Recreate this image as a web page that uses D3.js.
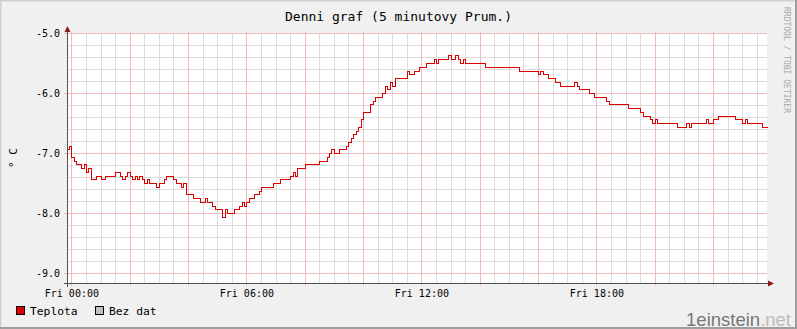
<!DOCTYPE html>
<html>
<head>
<meta charset="utf-8">
<script src="https://cdn.jsdelivr.net/npm/d3@7"></script>
<style>
  html, body { margin: 0; padding: 0; background: #f0f0f0; }
  svg { display: block; }
  text { font-family: "DejaVu Sans Mono", monospace; }
</style>
</head>
<body>
<svg id="chart" width="797" height="329"></svg>
<script>
// minutes since Fri 00:00 where the 5-minute reading changes, and the new value
const times = [
  -9, -5, 0, 5, 10, 20, 25, 30, 35, 40, 50, 60, 70, 90, 100, 105, 110, 115, 120, 125,
  130, 135, 140, 145, 150, 155, 160, 175, 180, 190, 195, 210, 215, 225, 230, 235, 250, 265, 275, 280,
  290, 295, 310, 315, 320, 335, 345, 350, 355, 360, 365, 375, 385, 390, 415, 430, 450, 455, 460, 465,
  480, 510, 525, 530, 535, 540, 550, 565, 570, 575, 580, 585, 590, 595, 600, 615, 620, 625, 640, 645,
  650, 655, 660, 665, 690, 695, 705, 715, 730, 745, 750, 755, 775, 780, 790, 795, 800, 805, 810, 850,
  920, 960, 965, 970, 980, 995, 1005, 1035, 1040, 1045, 1065, 1075, 1100, 1105, 1145, 1170, 1175, 1190, 1195, 1200,
  1205, 1245, 1265, 1270, 1275, 1305, 1310, 1320, 1330, 1365, 1380, 1385, 1390, 1420
];
const temps = [
  -6.9375, -6.875, -7.0625, -7.125, -7.1875, -7.25, -7.1875, -7.3125, -7.25, -7.4375, -7.375, -7.4375, -7.375, -7.3125, -7.375, -7.4375, -7.375, -7.3125, -7.375, -7.4375,
  -7.375, -7.4375, -7.375, -7.4375, -7.5, -7.4375, -7.5, -7.5625, -7.5, -7.4375, -7.375, -7.4375, -7.5, -7.5625, -7.5, -7.6875, -7.75, -7.8125, -7.75, -7.8125,
  -7.875, -7.9375, -8.0625, -7.9375, -8.0, -7.9375, -7.875, -7.8125, -7.875, -7.8125, -7.75, -7.6875, -7.625, -7.5625, -7.5, -7.4375, -7.375, -7.3125, -7.375, -7.25,
  -7.1875, -7.125, -7.0625, -7.0, -6.9375, -7.0, -6.9375, -6.875, -6.8125, -6.75, -6.6875, -6.625, -6.5625, -6.4375, -6.3125, -6.1875, -6.125, -6.0625, -6.0, -5.875,
  -5.9375, -5.8125, -5.875, -5.75, -5.625, -5.6875, -5.625, -5.5625, -5.5, -5.4375, -5.5, -5.4375, -5.375, -5.4375, -5.375, -5.4375, -5.5, -5.4375, -5.5, -5.5625,
  -5.625, -5.6875, -5.625, -5.6875, -5.75, -5.8125, -5.875, -5.8125, -5.875, -5.9375, -6.0, -6.0625, -6.125, -6.1875, -6.25, -6.3125, -6.375, -6.4375, -6.5, -6.4375,
  -6.5, -6.5625, -6.5, -6.5625, -6.5, -6.4375, -6.5, -6.4375, -6.375, -6.4375, -6.5, -6.4375, -6.5, -6.5625
];

const yTicks = [-9, -8, -7, -6, -5];
const xTicks = [0, 360, 720, 1080];
const xLabels = ["Fri 00:00", "Fri 06:00", "Fri 12:00", "Fri 18:00"];
const legendNames = ["Teplota", "Bez dat"];
const legendColors = ["#e00000", "#c0c0c0"];

const title = "Denni graf (5 minutovy Prum.)";
const yTitle = "\u00b0 C";
const credit = "RRDTOOL / TOBI OETIKER";

const svg = d3.select("#chart");
const width = 797;
const height = 329;

const plotLeft = 67, plotRight = 767, plotTop = 33, plotBottom = 283;
const tStart = -9, tEnd = tStart + 1440;

const x = d3.scaleLinear().domain([tStart, tEnd]).range([plotLeft, plotRight]);
const y = d3.scaleLinear().domain([-9 - 1 / 6, -5]).range([plotBottom, plotTop]);
const px = v => Math.round(v) + 0.5;

// background with shaded frame
svg.append("rect").attr("width", width).attr("height", height).attr("fill", "#f0f0f0");
svg.append("path").attr("d", `M0,${height} V0 H${width}`).attr("fill", "none")
  .attr("stroke", "#cfcfcf").attr("stroke-width", 3);
svg.append("path").attr("d", `M${width},0 V${height} H0`).attr("fill", "none")
  .attr("stroke", "#9e9e9e").attr("stroke-width", 4);

svg.append("rect")
  .attr("x", plotLeft).attr("y", plotTop)
  .attr("width", plotRight - plotLeft).attr("height", plotBottom - plotTop)
  .attr("fill", "#fff");

const grid = svg.append("g").attr("shape-rendering", "crispEdges");

// minor grid
const minorX = d3.range(0, tEnd, 30).filter(t => t % 120 !== 0);
const minorY = d3.range(-9.2, -4.99, 0.2).filter(v => Math.abs(v - Math.round(v)) > 0.01 && y(v) <= plotBottom);

grid.selectAll("line.vmin").data(minorX).join("line")
  .attr("x1", d => px(x(d))).attr("x2", d => px(x(d)))
  .attr("y1", plotTop).attr("y2", plotBottom)
  .attr("stroke", "#dcdcdc");
grid.selectAll("line.hmin").data(minorY).join("line")
  .attr("x1", plotLeft).attr("x2", plotRight)
  .attr("y1", d => px(y(d))).attr("y2", d => px(y(d)))
  .attr("stroke", "#dcdcdc");

// major grid
const majorX = d3.range(0, tEnd, 120);
grid.selectAll("line.vmaj").data(majorX).join("line")
  .attr("x1", d => px(x(d))).attr("x2", d => px(x(d)))
  .attr("y1", plotTop - 1).attr("y2", plotBottom + 3)
  .attr("stroke", "#f3bcbc");
grid.selectAll("line.hmaj").data(yTicks).join("line")
  .attr("x1", plotLeft - 3).attr("x2", plotRight)
  .attr("y1", d => px(y(d))).attr("y2", d => px(y(d)))
  .attr("stroke", "#f3bcbc");

// data line
const points = times.map((t, i) => [t, temps[i]]);
points.push([tEnd, temps[temps.length - 1]]);

const line = d3.line()
  .x(d => px(x(d[0])))
  .y(d => px(y(d[1])))
  .curve(d3.curveStepAfter);

svg.append("path")
  .datum(points)
  .attr("d", line)
  .attr("fill", "none")
  .attr("stroke", "#dd0000")
  .attr("stroke-width", 1)
  .attr("shape-rendering", "crispEdges");

// axes
const axes = svg.append("g").attr("shape-rendering", "crispEdges");
axes.append("line")
  .attr("x1", plotLeft + 0.5).attr("x2", plotLeft + 0.5)
  .attr("y1", plotBottom + 4).attr("y2", plotTop - 3)
  .attr("stroke", "#505050");
axes.append("line")
  .attr("x1", plotLeft - 3).attr("x2", plotRight + 2)
  .attr("y1", plotBottom + 0.5).attr("y2", plotBottom + 0.5)
  .attr("stroke", "#505050");

svg.append("path")
  .attr("d", `M${plotLeft + 0.5},${plotTop - 7} L${plotLeft - 2.5},${plotTop - 1} L${plotLeft + 3.5},${plotTop - 1} Z`)
  .attr("fill", "#8b1a1a");
svg.append("path")
  .attr("d", `M${plotRight + 7},${plotBottom + 0.5} L${plotRight + 1},${plotBottom - 2.5} L${plotRight + 1},${plotBottom + 3.5} Z`)
  .attr("fill", "#8b1a1a");

const yAxis = d3.axisLeft(y)
  .tickValues(yTicks)
  .tickSize(0)
  .tickPadding(7)
  .tickFormat(d => d.toFixed(1));

svg.append("g")
  .attr("transform", `translate(${plotLeft},0)`)
  .call(yAxis)
  .call(g => g.select(".domain").remove())
  .selectAll("text")
  .attr("font-family", "DejaVu Sans Mono")
  .attr("font-size", 10)
  .attr("fill", "#000");

const xAxis = d3.axisBottom(x)
  .tickValues(xTicks)
  .tickSize(0)
  .tickPadding(7)
  .tickFormat((d, i) => xLabels[i]);

svg.append("g")
  .attr("transform", `translate(0,${plotBottom})`)
  .call(xAxis)
  .call(g => g.select(".domain").remove())
  .selectAll("text")
  .attr("font-family", "DejaVu Sans Mono")
  .attr("font-size", 10)
  .attr("fill", "#000");

// titles
svg.append("text")
  .attr("x", width / 2).attr("y", 21)
  .attr("text-anchor", "middle")
  .attr("font-size", 13)
  .attr("fill", "#000")
  .text(title);

svg.append("text")
  .attr("transform", `translate(17,${(plotTop + plotBottom) / 2}) rotate(-90)`)
  .attr("text-anchor", "middle")
  .attr("font-size", 11)
  .attr("fill", "#000")
  .text(yTitle);

svg.append("text")
  .attr("transform", "translate(784,7) rotate(90)")
  .attr("font-size", 8)
  .attr("fill", "#a8a8a8")
  .text(credit);

// legend
const legend = svg.append("g");
const legendX = [16, 95];
legendNames.forEach((name, i) => {
  legend.append("rect")
    .attr("x", legendX[i] + 0.5).attr("y", 306.5)
    .attr("width", 8).attr("height", 8)
    .attr("fill", legendColors[i])
    .attr("stroke", "#000")
    .attr("shape-rendering", "crispEdges");
  legend.append("text")
    .attr("x", legendX[i] + 14).attr("y", 315)
    .attr("font-size", 11.3)
    .attr("fill", "#000")
    .text(name);
});

// watermark
const mark = svg.append("text")
  .attr("x", 791).attr("y", 326)
  .attr("text-anchor", "end")
  .attr("font-size", 18.5)
  .style("font-family", "'Liberation Sans', Arial, sans-serif");
mark.append("tspan").attr("fill", "#777").text("1einstein");
mark.append("tspan").attr("fill", "#bbb").text(".net");
</script>
</body>
</html>
